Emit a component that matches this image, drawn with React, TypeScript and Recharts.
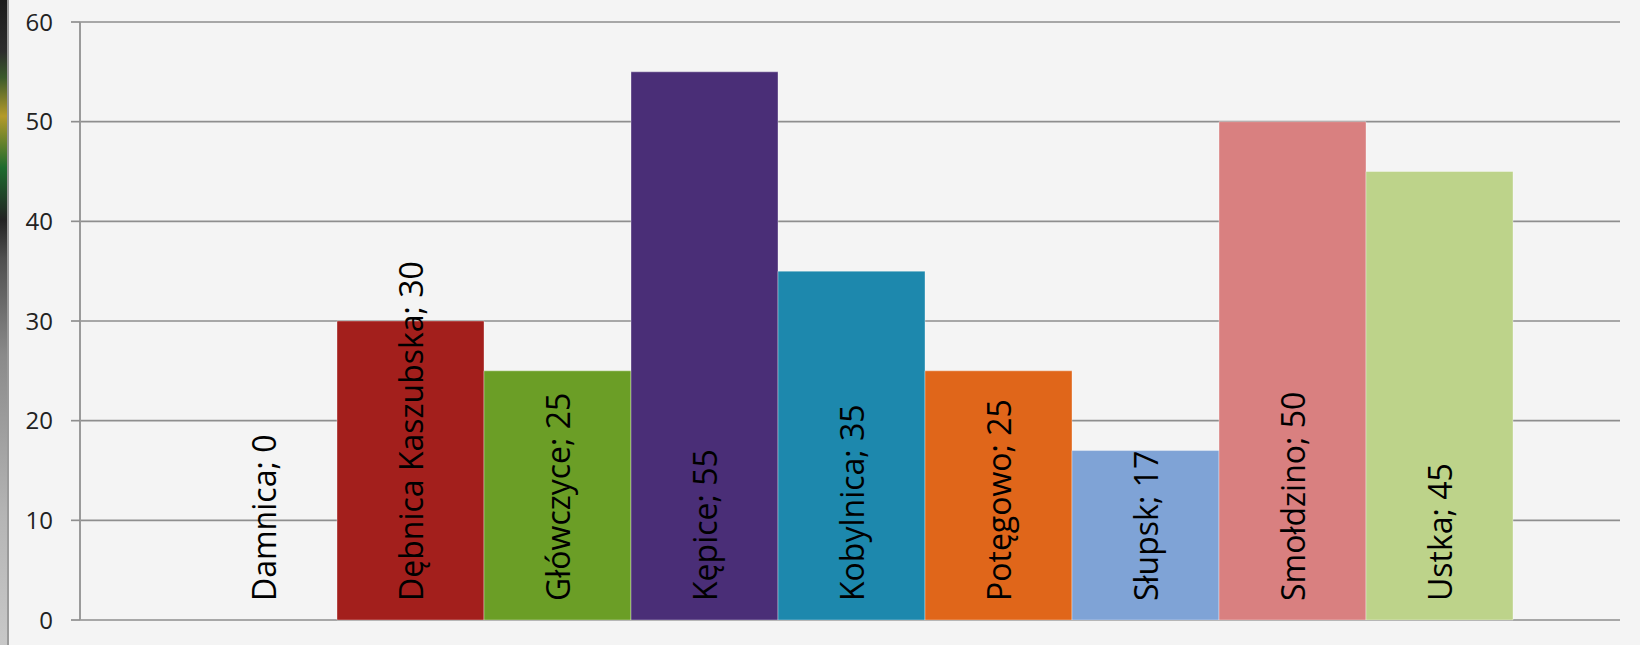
import { Bar, BarChart, CartesianGrid, LabelList, XAxis, YAxis } from "recharts";

const towns = [
  "Damnica",
  "Dębnica Kaszubska",
  "Główczyce",
  "Kępice",
  "Kobylnica",
  "Potęgowo",
  "Słupsk",
  "Smołdzino",
  "Ustka",
];
const values = [0, 30, 25, 55, 35, 25, 17, 50, 45];
const colors = [
  "#4f81bd",
  "#a31f1c",
  "#6b9e26",
  "#4a2e77",
  "#1d88ad",
  "#e0661a",
  "#7fa3d6",
  "#d98080",
  "#bdd38a",
];
const yTicks = [0, 10, 20, 30, 40, 50, 60];

const row: Record<string, string | number> = { group: "" };
towns.forEach((t, i) => {
  row[t] = values[i];
});
const data = [row];

const GRID = "#8e8e8e";

function makeLabel(town: string) {
  return (props: any) => {
    const { x, y, width, height, value } = props;
    const cx = Number(x) + Number(width) / 2;
    const bottom = Math.max(Number(y), Number(y) + Number(height)) - 19;
    return (
      <text
        x={cx}
        y={bottom}
        transform={`rotate(-90 ${cx} ${bottom})`}
        textAnchor="start"
        dominantBaseline="central"
        fontFamily="'Open Sans', sans-serif"
        fontSize={32}
        fill="#000"
      >
        {`${town}; ${value}`}
      </text>
    );
  };
}

export default function App() {
  return (
    <div
      style={{
        position: "absolute",
        left: 0,
        top: 0,
        width: 1640,
        height: 645,
        background: "#f4f4f4",
        overflow: "hidden",
      }}
    >
      {/* thin strip of the neighbouring picture at the left edge */}
      <div
        style={{
          position: "absolute",
          left: 0,
          top: 0,
          width: 7,
          height: 645,
          background:
            "linear-gradient(to bottom, #1b1b1b 0%, #2d2d2d 8%, #3a5a2a 12%, #b49a2a 18%, #1d6b2e 26%, #222 34%, #4e4e4e 40%, #8a8a8a 55%, #b5b5b5 80%, #c8c8c8 100%)",
        }}
      />
      <div
        style={{
          position: "absolute",
          left: 7,
          top: 0,
          width: 2,
          height: 645,
          background: "#9a9a9a",
        }}
      />
      <BarChart
        width={1640}
        height={645}
        data={data}
        margin={{ top: 22, right: 20, bottom: 0, left: 0 }}
        barCategoryGap={110}
        barGap={0}
        style={{ fontFamily: "'Open Sans', sans-serif" }}
      >
        <CartesianGrid vertical={false} stroke={GRID} strokeWidth={1.7} />
        <XAxis xAxisId="cat" dataKey="group" hide />
        <XAxis
          xAxisId="edge"
          type="number"
          domain={[0, 1]}
          ticks={[0, 1]}
          allowDataOverflow
          stroke={GRID}
          axisLine={{ stroke: GRID, strokeWidth: 1.7 }}
          tickLine={{ stroke: GRID, strokeWidth: 1.7 }}
          tickSize={13}
          tick={false}
          height={25}
        />
        <YAxis
          domain={[0, 60]}
          ticks={yTicks}
          width={80}
          axisLine={{ stroke: "#9a9a9a", strokeWidth: 2 }}
          tickLine={{ stroke: GRID, strokeWidth: 1.7 }}
          tickSize={9}
          tickMargin={18}
          tick={{ fill: "#222", fontSize: 24, fontFamily: "'Open Sans', sans-serif" }}
        />
        {towns.map((t, i) => (
          <Bar
            key={t}
            xAxisId="cat"
            dataKey={t}
            fill={colors[i]}
            fillOpacity={values[i] === 0 ? 0 : 1}
            stroke={values[i] === 0 ? "none" : "rgba(255,255,255,0.35)"}
            strokeWidth={1}
            minPointSize={1}
            isAnimationActive={false}
          >
            <LabelList dataKey={t} content={makeLabel(t)} />
          </Bar>
        ))}
      </BarChart>
    </div>
  );
}
